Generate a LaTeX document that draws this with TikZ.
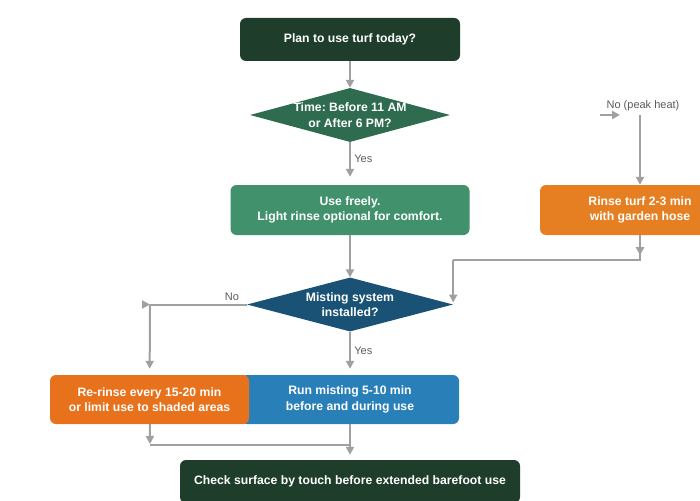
\documentclass[tikz,border=0pt]{standalone}
\usepackage{fontspec}
\setmainfont{Liberation Sans}
\usetikzlibrary{arrows.meta,shapes.geometric}
\definecolor{turfdark}{RGB}{30,61,43}
\definecolor{turfgreen}{RGB}{46,107,79}
\definecolor{turflight}{RGB}{64,145,108}
\definecolor{rinseorange}{RGB}{230,126,34}
\definecolor{rerinseorange}{RGB}{232,113,28}
\definecolor{mistnavy}{RGB}{26,82,118}
\definecolor{mistblue}{RGB}{41,128,185}
\definecolor{linkgray}{RGB}{160,160,160}
\definecolor{labelgray}{RGB}{90,90,90}
\frenchspacing

\tikzset{
    box/.style={rectangle,rounded corners=6pt,inner sep=2pt,text=white,align=center,
        font=\bfseries\fontsize{12.2}{15.5}\selectfont},
    decision/.style={diamond,inner sep=0pt,draw=none},
    dtext/.style={text=white,align=center,font=\bfseries\fontsize{12.2}{15.5}\selectfont},
    link/.style={draw=linkgray,line width=2pt},
    flow/.style={link,-{Triangle[length=8pt,width=8pt]}},
    lbl/.style={text=labelgray,font=\fontsize{11}{13}\selectfont},
}

\begin{document}
\begin{tikzpicture}[x=1pt,y=-1pt]
    \useasboundingbox (0,0) rectangle (700,500);

    % Main column
    \node[box,fill=turfdark,minimum width=220pt,minimum height=43pt] (start) at (350,39.5) {Plan to use turf today?};
    \node[decision,fill=turfgreen,minimum width=200pt,minimum height=54pt,
        label={[dtext]center:{Time: Before 11 AM\\or After 6 PM?}}] (time) at (350,115) {};
    \node[box,fill=turflight,minimum width=239pt,minimum height=50pt] (free) at (350,210) {Use freely.\\Light rinse optional for comfort.};
    \node[decision,fill=mistnavy,minimum width=206pt,minimum height=54pt,
        label={[dtext]center:{Misting system\\installed?}}] (mist) at (350,304.5) {};
    \node[box,fill=mistblue,minimum width=218pt,minimum height=49pt] (run) at (350,399.5) {Run misting 5-10 min\\before and during use};
    \node[box,fill=rerinseorange,minimum width=199pt,minimum height=49pt] (rerinse) at (149.5,399.5) {Re-rinse every 15-20 min\\or limit use to shaded areas};
    \node[box,fill=turfdark,minimum width=340pt,minimum height=43pt] (check) at (350,481.5) {Check surface by touch before extended barefoot use};

    % Peak heat branch
    \node[box,fill=rinseorange,minimum width=200pt,minimum height=50pt] (rinse) at (640,210) {Rinse turf 2-3 min\\with garden hose};
    \node[lbl] (peak) at (643,106) {No (peak heat)};
    \coordinate (peaktop) at (640,115);
    \coordinate (stub) at (600,115);
    \coordinate (rbend) at (640,260);
    \coordinate (mbend) at (mist.east |- rbend);

    % Connectors
    \draw[flow] (start) -- (time.north);
    \draw[flow,shorten >=8pt] (time.south) -- node[lbl,right,pos=0.38] (yes1) {Yes} (free);
    \draw[flow] (stub) -- ++(20,0);
    \draw[flow] (peaktop) -- (rinse);
    \draw[flow] (rinse.south) -- ++(0,20);
    \draw[link] (rinse.south) -- (rbend) -- (mbend);
    \draw[flow,shorten >=2pt] (mbend) -- (mist.east);
    \draw[flow] (free) -- (mist.north);

    % Misting decision
    \coordinate (nobend) at (150,304.5);
    \node[lbl] (no2) at (232,297) {No};
    \draw[link] (mist.west) -- (nobend);
    \draw[flow] ([xshift=-8pt]nobend) -- (nobend);
    \draw[flow,shorten >=6pt] (nobend) -- (rerinse);
    \draw[flow,shorten >=6pt] (mist.south) -- node[lbl,right,pos=0.45] (yes2) {Yes} (run);

    % Merge
    \coordinate (merge) at (150,445);
    \draw[flow,shorten >=1pt] (rerinse) -- (merge);
    \draw[link] (merge) -- (merge -| run.south);
    \draw[flow,shorten >=5pt] (run) -- (check);
\end{tikzpicture}
\end{document}
